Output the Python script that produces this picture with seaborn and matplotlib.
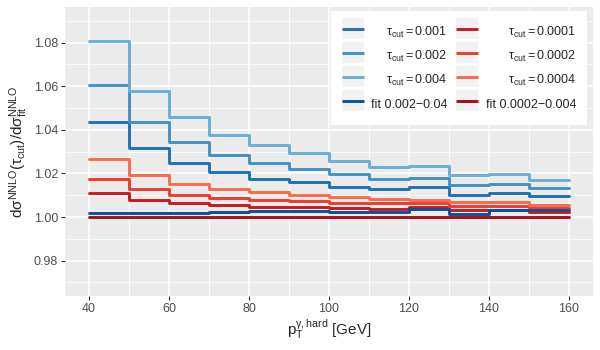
import numpy as np
import pandas as pd
import matplotlib
matplotlib.use("Agg")
import matplotlib.pyplot as plt
import seaborn as sns
from matplotlib.lines import Line2D
from matplotlib.patches import Rectangle
from matplotlib.legend_handler import HandlerLine2D

# -- Data ---------------------------------------------------------------------
pt_edges = [40, 50, 60, 70, 80, 90, 100, 110, 120, 130, 140, 150, 160]

tau_001  = [1.0434, 1.0315, 1.0249, 1.0208, 1.0176, 1.0162, 1.0139, 1.0127, 1.0136, 1.0100, 1.0112, 1.0096]
tau_002  = [1.0606, 1.0437, 1.0346, 1.0284, 1.0246, 1.0220, 1.0196, 1.0174, 1.0178, 1.0146, 1.0152, 1.0132]
tau_004  = [1.0807, 1.0578, 1.0460, 1.0376, 1.0329, 1.0292, 1.0258, 1.0231, 1.0233, 1.0193, 1.0196, 1.0172]
fit_hi   = [1.0017, 1.0018, 1.0020, 1.0021, 1.0026, 1.0028, 1.0024, 1.0025, 1.0038, 1.0013, 1.0031, 1.0031]
tau_0001 = [1.0109, 1.0078, 1.0063, 1.0055, 1.0048, 1.0044, 1.0040, 1.0036, 1.0046, 1.0032, 1.0030, 1.0024]
tau_0002 = [1.0173, 1.0127, 1.0101, 1.0086, 1.0078, 1.0073, 1.0066, 1.0063, 1.0063, 1.0052, 1.0050, 1.0043]
tau_0004 = [1.0265, 1.0191, 1.0150, 1.0127, 1.0114, 1.0101, 1.0093, 1.0084, 1.0076, 1.0067, 1.0067, 1.0055]
fit_lo   = [1.0000, 1.0000, 1.0000, 1.0000, 1.0000, 1.0000, 1.0000, 1.0000, 1.0000, 1.0000, 1.0000, 1.0000]

series_labels = [
    r"$\mathrm{\tau_{cut}} = 0.001$", r"$\mathrm{\tau_{cut}} = 0.002$",
    r"$\mathrm{\tau_{cut}} = 0.004$", "fit 0.002\u22120.04",
    r"$\mathrm{\tau_{cut}} = 0.0001$", r"$\mathrm{\tau_{cut}} = 0.0002$",
    r"$\mathrm{\tau_{cut}} = 0.0004$", "fit 0.0002\u22120.004",
]
series_values = [tau_001, tau_002, tau_004, fit_hi, tau_0001, tau_0002, tau_0004, fit_lo]
series_colors = ["#2171B5", "#4292C6", "#6BAED6", "#08519C",
                 "#CB181D", "#EF3B2C", "#FB6A4A", "#A50F15"]

y_ticks = [0.98, 1.00, 1.02, 1.04, 1.06, 1.08]
x_ticks = [40, 60, 80, 100, 120, 140, 160]

# long table; last bin value repeated at the closing edge for the step line
rows = []
for lab, vals in zip(series_labels, series_values):
    for x, v in zip(pt_edges, list(vals) + [vals[-1]]):
        rows.append({"pt": x, "ratio": v, "series": lab})
df = pd.DataFrame(rows)

# -- Style ----------------------------------------------------------------------
sns.set_theme(style="darkgrid")
plt.rcParams["font.family"] = ["Liberation Sans", "DejaVu Sans"]
plt.rcParams["mathtext.fontset"] = "custom"
plt.rcParams["mathtext.rm"] = "Liberation Sans"
plt.rcParams["mathtext.it"] = "Liberation Sans:italic"
plt.rcParams["mathtext.bf"] = "Liberation Sans:bold"

fig = plt.figure(figsize=(6, 3.5), dpi=100)
ax = fig.add_axes([65 / 600, 1 - 296 / 350, (593 - 65) / 600, (296 - 7) / 350])
ax.set_facecolor("#EBEBEB")

palette = dict(zip(series_labels, series_colors))
draw_order = [series_labels[i] for i in [7, 4, 5, 6, 0, 1, 2, 3]]
for lab in draw_order:
    sns.lineplot(data=df[df["series"] == lab], x="pt", y="ratio", color=palette[lab],
                 drawstyle="steps-post", estimator=None, linewidth=2.1, ax=ax, legend=False)

ax.set_xlim(34, 166)
ax.set_ylim(0.9638, 1.0963)
ax.set_xticks(x_ticks)
ax.set_yticks(y_ticks)
ax.set_yticklabels([f"{t:.2f}" for t in y_ticks])
ax.set_xticks([50, 70, 90, 110, 130, 150], minor=True)
ax.set_yticks([0.97, 0.99, 1.01, 1.03, 1.05, 1.07, 1.09], minor=True)
ax.grid(which="major", color="white", linewidth=1.1)
ax.grid(which="minor", color="white", linewidth=0.55)
for s in ax.spines.values():
    s.set_visible(False)
ax.tick_params(which="major", length=3, width=0.8, color="#333333", labelsize=9,
               labelcolor="#4D4D4D", pad=2, left=True, bottom=True)
ax.tick_params(which="minor", length=0)

ax.set_xlabel(r"$\mathregular{p_T^{\gamma,hard}}$ [GeV]", fontsize=11, labelpad=2)
ax.set_ylabel(r"$\mathregular{d\sigma^{NNLO}(\tau_{cut})/d\sigma^{NNLO}_{fit}}$", fontsize=11, labelpad=3)


class KeyHandler(HandlerLine2D):
    # grey key box centred on the legend line, like ggplot's legend.key
    def create_artists(self, legend, orig_handle, xdescent, ydescent, width, height, fontsize, trans):
        bg = Rectangle((-xdescent, -ydescent / 2), width, height, facecolor="#F2F2F2",
                       edgecolor="none", transform=trans)
        arts = super().create_artists(legend, orig_handle, xdescent, ydescent, width, height, fontsize, trans)
        return [bg] + arts


handles = [Line2D([], [], color=c, linewidth=2.1, solid_capstyle="butt") for c in series_colors]
leg = ax.legend(handles, series_labels, ncol=2, loc="upper right",
                bbox_to_anchor=(587 / 600, 1 - 11 / 350), bbox_transform=fig.transFigure,
                borderaxespad=0, fontsize=9, frameon=True, facecolor="white", edgecolor="none",
                framealpha=1, fancybox=False, handlelength=1.76, handleheight=2.21,
                handletextpad=0.6, labelspacing=0.24, columnspacing=0.7, borderpad=0.85,
                handler_map={Line2D: KeyHandler()})

# right-align legend labels within each column
fig.canvas.draw()
renderer = fig.canvas.get_renderer()
texts = leg.get_texts()
for col in (texts[:4], texts[4:]):
    widths = [t.get_window_extent(renderer).width for t in col]
    wmax = max(widths)
    for t, w in zip(col, widths):
        t.set_position((wmax - w, 0))

fig.savefig("out.png", dpi=100)
